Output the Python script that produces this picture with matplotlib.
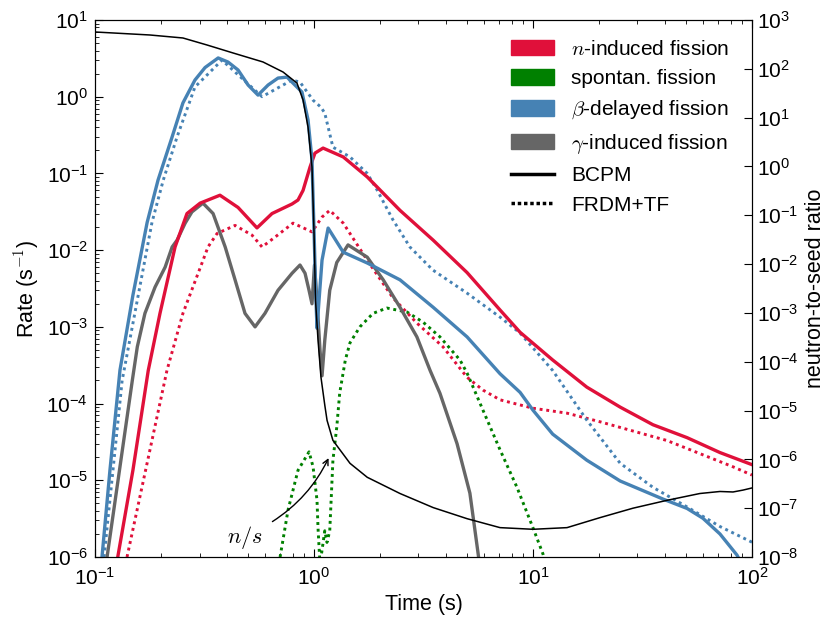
import matplotlib
matplotlib.use('Agg')
import matplotlib.pyplot as plt
from matplotlib.patches import Patch
from matplotlib.lines import Line2D

plt.rcParams['font.family'] = ['Liberation Sans', 'DejaVu Sans']
plt.rcParams['mathtext.fontset'] = 'cm'

# couleurs des canaux de fission
c_n = '#e0103a'
c_sf = '#008000'
c_beta = '#4682b4'
c_gam = '#666666'

# beta-delayed fission, BCPM
t_beta_bcpm = [0.1076, 0.117, 0.130, 0.149, 0.173, 0.194, 0.225, 0.252, 0.286, 0.318, 0.365, 0.405, 0.450, 0.50,
               0.555, 0.617, 0.685, 0.753, 0.881, 0.939, 0.979, 1.0, 1.021, 1.032, 1.054, 1.088, 1.16, 1.36,
               1.75, 2.47, 3.5, 5.0, 7.07, 8.73, 10.0, 12.3, 17.6, 25.0, 39.2, 50.5, 59.7, 71.4, 85.4, 89.0]
r_beta_bcpm = [1e-6, 1.36e-5, 2.73e-4, 2.6e-3, 0.023, 0.082, 0.30, 0.83, 1.65, 2.4, 3.2, 2.83, 2.23, 1.42,
               1.05, 1.42, 1.75, 1.8, 1.15, 0.50, 0.15, 0.018, 2.2e-3, 9.6e-4, 2.2e-3, 7.4e-3, 0.0194, 9.4e-3,
               6.8e-3, 4.1e-3, 1.8e-3, 7.4e-4, 2.45e-4, 1.4e-4, 8.2e-5, 4.0e-5, 1.83e-5, 9.8e-6, 5.7e-6, 4.3e-6, 3.2e-6, 2.0e-6, 1.06e-6, 8.5e-7]

# beta-delayed fission, FRDM+TF
t_beta_frdm = [0.110, 0.133, 0.182, 0.205, 0.237, 0.286, 0.380, 0.579, 0.794, 0.863, 0.99, 1.076, 1.12,
               1.22, 1.46, 1.75, 1.94, 2.29, 2.74, 3.49, 5.0, 7.07, 8.73, 12.3, 17.6, 25.0, 35.3, 50.5,
               71.4, 100.0]
r_beta_frdm = [1e-6, 2.0e-4, 0.023, 0.082, 0.30, 1.34, 3.0, 1.0, 1.65, 1.55, 0.9, 0.73, 0.61,
               0.22, 0.164, 0.10, 0.061, 0.025, 0.011, 5.5e-3, 2.75e-3, 1.34e-3, 8.3e-4, 2.7e-4, 6.1e-5, 1.67e-5, 8.1e-6, 4.5e-6,
               2.5e-6, 1.56e-6]

# n-induced fission, BCPM
t_n_bcpm = [0.127, 0.149, 0.175, 0.198, 0.232, 0.263, 0.302, 0.372, 0.45, 0.549, 0.643, 0.794, 0.845, 0.891,
            0.959, 1.01, 1.10, 1.36, 1.75, 2.47, 3.5, 5.0, 7.07, 8.73, 12.3, 17.6, 25.0, 35.3, 50.5,
            71.4, 100.0]
r_n_bcpm = [1e-6, 1.36e-5, 2.7e-4, 1.5e-3, 0.011, 0.030, 0.041, 0.052, 0.036, 0.0195, 0.030, 0.040, 0.045, 0.06,
            0.121, 0.184, 0.214, 0.164, 0.090, 0.033, 0.0135, 5.1e-3, 1.66e-3, 8.5e-4, 3.7e-4, 1.64e-4, 9.0e-5, 5.3e-5, 3.6e-5,
            2.3e-5, 1.6e-5]

# n-induced fission, FRDM+TF
t_n_frdm = [0.140, 0.213, 0.252, 0.308, 0.328, 0.361, 0.436, 0.521, 0.579, 0.664, 0.802, 0.979, 1.088,
            1.18, 1.36, 1.75, 2.29, 2.95, 3.88, 5.0, 5.91, 7.07, 10.0, 14.3, 20.2, 40.9, 81.9, 100.0]
r_n_frdm = [1e-6, 2.7e-4, 1.5e-3, 6.8e-3, 0.011, 0.0165, 0.021, 0.0157, 0.011, 0.0148, 0.0225, 0.0173, 0.027,
            0.033, 0.0225, 7.4e-3, 2.4e-3, 1.12e-3, 5.5e-4, 2.2e-4, 1.5e-4, 1.12e-4, 8.7e-5, 7.5e-5, 5.8e-5, 3.3e-5, 1.5e-5, 1.17e-5]

# gamma-induced fission, BCPM
t_gam_bcpm = [0.1135, 0.148, 0.156, 0.169, 0.188, 0.209, 0.225, 0.237, 0.258, 0.277, 0.311, 0.346, 0.393,
              0.436, 0.484, 0.538, 0.597, 0.685, 0.794, 0.863, 0.910, 0.949, 0.979, 1.005, 1.032, 1.065,
              1.088, 1.12, 1.18, 1.27, 1.43, 1.75, 2.07, 2.47, 2.95, 3.39, 3.76, 4.50, 5.15, 5.61, 5.7]
r_gam_bcpm = [1e-6, 2.0e-4, 5.5e-4, 1.5e-3, 3.3e-3, 6.0e-3, 0.011, 0.0135, 0.0225, 0.0315, 0.041, 0.030, 0.011,
              4.1e-3, 1.5e-3, 1.0e-3, 1.5e-3, 3.0e-3, 5.0e-3, 6.4e-3, 5.0e-3, 3.0e-3, 2.0e-3, 6.4e-3, 2.2e-3, 5e-4,
              2.3e-4, 6.7e-4, 3.0e-3, 6.9e-3, 0.0117, 8.1e-3, 4.1e-3, 1.8e-3, 7.4e-4, 2.7e-4, 1.36e-4, 3.0e-5, 6.8e-6, 1.13e-6, 8e-7]

# spontaneous fission, FRDM+TF
t_sf_frdm = [0.70, 0.761, 0.845, 0.949, 0.99, 1.032, 1.043, 1.065, 1.12, 1.146, 1.18, 1.22, 1.27, 1.31,
             1.39, 1.46, 1.62, 1.86, 2.15, 2.66, 3.15, 3.76, 4.64, 5.0, 5.91, 7.07, 8.45, 10.0, 11.1, 11.4]
r_sf_frdm = [1e-6, 4.1e-6, 1.35e-5, 2.35e-5, 1.5e-5, 5.5e-6, 2.4e-6, 8e-7, 2.2e-6, 1.55e-6, 2.2e-6, 1.83e-5, 4.9e-5, 1.37e-4,
             3.7e-4, 6.2e-4, 1.0e-3, 1.5e-3, 1.76e-3, 1.56e-3, 1.15e-3, 7.4e-4, 3.7e-4, 2.5e-4, 8.2e-5, 2.5e-5, 8.1e-6, 2.4e-6, 1.1e-6, 8e-7]

# neutron-to-seed ratio (right axis)
t_ns = [0.1, 0.178, 0.252, 0.325, 0.427, 0.585, 0.722, 0.836, 0.891, 0.939, 0.979, 1.0, 1.016, 1.043,
        1.076, 1.12, 1.147, 1.22, 1.46, 1.75, 2.47, 3.5, 5.0, 7.07, 10.0, 14.3, 20.2, 28.6, 40.9, 57.8,
        71.4, 81.9, 91.0, 100.0]
ns = [568, 493, 428, 307, 211, 138, 86, 51, 23, 6.4, 0.97, 0.044, 1.8e-3, 2.8e-4,
      4.8e-5, 1.29e-5, 6.3e-6, 2.45e-6, 8.3e-7, 4.3e-7, 2.0e-7, 1.03e-7, 6.1e-8, 4.0e-8, 3.7e-8, 4.0e-8, 6.4e-8, 1.0e-7, 1.45e-7, 2.0e-7,
      2.2e-7, 2.15e-7, 2.35e-7, 2.6e-7]

fig = plt.figure(figsize=(8.27, 6.17), dpi=100)
ax = fig.add_axes([0.1149, 0.0972, 0.7944, 0.8704])

dots = (0, (1, 1.3))
lw = 2.4
ax.plot(t_sf_frdm, r_sf_frdm, color=c_sf, lw=2.1, ls=dots)
ax.plot(t_n_frdm, r_n_frdm, color=c_n, lw=2.1, ls=dots)
ax.plot(t_beta_frdm, r_beta_frdm, color=c_beta, lw=2.1, ls=dots)
ax.plot(t_gam_bcpm, r_gam_bcpm, color=c_gam, lw=lw)
ax.plot(t_n_bcpm, r_n_bcpm, color=c_n, lw=lw)
ax.plot(t_beta_bcpm, r_beta_bcpm, color=c_beta, lw=lw)

ax.set_xscale('log')
ax.set_yscale('log')
ax.set_xlim(0.1, 100)
ax.set_ylim(1e-6, 10)
ax.set_xlabel('Time (s)', fontsize=15.5)
ax.set_ylabel(r'Rate (s$^{-1}$)', fontsize=15.5)
ax.tick_params(which='both', direction='in', top=True, labelsize=15)
ax.tick_params(which='major', length=6)
ax.tick_params(which='minor', length=3)
ax.tick_params(axis='x', pad=7)
ax.tick_params(axis='y', pad=5)

ax.annotate('', xy=(1.18, 2.1e-5), xytext=(0.63, 2.77e-6),
            arrowprops=dict(arrowstyle='->', color='k', lw=1.0, connectionstyle='arc3,rad=0.15'))
ax.text(0.484, 1.8e-6, r'$n/s$', fontsize=16, ha='center', va='center')

ax2 = ax.twinx()
ax2.plot(t_ns, ns, color='k', lw=1.1)
ax2.set_yscale('log')
ax2.set_ylim(1e-8, 1e3)
ax2.set_yticks([10.0**k for k in range(-8, 4)])
ax2.set_ylabel('neutron-to-seed ratio', fontsize=15.5, labelpad=5)
ax2.tick_params(which='both', direction='in', labelsize=15)
ax2.tick_params(which='major', length=6)
ax2.tick_params(which='minor', length=3)

handles = [Patch(color=c_n, label=r'$n$-induced fission'),
           Patch(color=c_sf, label='spontan. fission'),
           Patch(color=c_beta, label=r'$\beta$-delayed fission'),
           Patch(color=c_gam, label=r'$\gamma$-induced fission'),
           Line2D([], [], color='k', lw=2.5, label='BCPM'),
           Line2D([], [], color='k', lw=2.5, ls=(0, (1, 0.8)), label='FRDM+TF')]
ax2.legend(handles=handles, loc='upper left', bbox_to_anchor=(0.6043, 0.998), frameon=False,
           fontsize=15, handlelength=2.07, handleheight=0.78, labelspacing=0.5, handletextpad=0.82)

fig.savefig('out.png', dpi=100)
